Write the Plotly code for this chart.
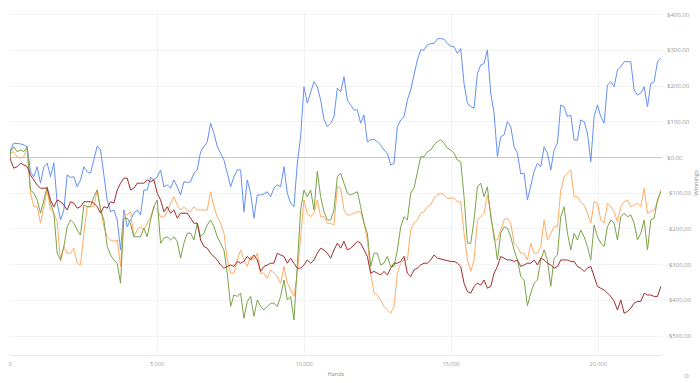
import plotly.graph_objects as go

# Winnings (dollars) sampled along the hand count
HAND_STEP = 113.4
HAND_OFFSET = 17

blue = [0,
    21,40,40,38,35,30,-40,-54,-26,-72,-26,-16,-54,-15,-128,-175,-147,-49,-56,-54,-82,-63,-26,-40,-44,-7,32,21,-44,-119,-152,-147,-175,-259,-147,-194,-175,-156,-147,-161,-91,-91,-56,-63,-54,-35,-82,-77,-86,-63,
    -82,-105,-68,-70,-68,-44,-35,16,30,44,96,68,30,12,-7,-44,-82,-54,-35,-35,-152,-63,-100,-170,-105,-105,-102,-96,-110,-86,-77,-82,-26,-100,-128,-138,-16,58,198,152,184,212,198,161,107,86,96,114,
    194,184,226,161,147,133,133,96,119,44,49,51,44,35,21,12,-21,-16,86,105,114,161,189,231,273,301,301,315,319,319,332,333,331,319,312,310,291,305,207,152,142,138,235,259,263,301,180,124,
    2,58,63,100,86,30,12,-46,-44,-119,-82,-40,-16,-26,30,12,-35,21,40,147,142,114,119,49,49,105,100,68,-12,114,147,114,96,203,212,198,245,254,268,268,268,189,175,180,198,142,207,212,268,277]

orange = [0,
    12,16,2,-2,2,26,-100,-138,-138,-184,-133,-91,-147,-156,-180,-291,-249,-268,-268,-254,-296,-301,-212,-138,-138,-138,-91,-138,-194,-222,-231,-235,-231,-305,-156,-161,-152,-222,-203,-194,-203,-184,-166,-138,-147,-166,-167,-152,-128,-110,
    -133,-147,-138,-147,-152,-138,-147,-147,-147,-147,-96,-138,-166,-184,-212,-287,-324,-324,-287,-259,-287,-305,-277,-287,-268,-324,-324,-338,-315,-324,-333,-352,-305,-352,-371,-389,-324,-222,-119,-156,-166,-156,-119,-166,-166,-184,-184,-189,
    -82,-86,-147,-161,-161,-156,-152,-152,-184,-231,-324,-380,-385,-399,-417,-427,-436,-417,-324,-296,-287,-287,-203,-184,-175,-156,-152,-138,-133,-114,-105,-100,-105,-114,-114,-114,-124,-124,-212,-287,-319,-287,-175,-166,-156,-105,-156,-231,
    -231,-203,-175,-170,-184,-240,-249,-268,-268,-287,-240,-268,-268,-249,-175,-231,-212,-194,-194,-91,-54,-44,-35,-110,-110,-124,-133,-156,-184,-124,-128,-175,-184,-128,-138,-152,-180,-138,-124,-119,-138,-133,-128,-138,-86,-156,-152,-147,-124,-91]

green = [0,
    16,30,16,21,16,30,-91,-100,-119,-156,-119,-82,-128,-156,-268,-287,-249,-194,-175,-184,-203,-217,-133,-138,-138,-110,-91,-147,-175,-249,-273,-287,-296,-352,-170,-170,-186,-222,-222,-222,-198,-222,-175,-138,-119,-240,-226,-222,-231,-222,
    -235,-282,-240,-212,-212,-231,-184,-222,-212,-189,-175,-194,-222,-240,-259,-324,-417,-385,-389,-380,-450,-403,-389,-445,-399,-417,-427,-417,-408,-408,-417,-389,-343,-399,-389,-455,-315,-147,-91,-110,-91,-147,-39,-110,-152,-175,-175,-147,
    -54,-44,-72,-100,-105,-100,-96,-138,-184,-212,-305,-268,-268,-301,-296,-277,-305,-305,-259,-194,-166,-175,-100,-86,-44,2,2,16,21,35,44,49,40,26,21,12,-7,-12,-110,-240,-240,-175,-82,-72,-110,-82,-166,-217,
    -287,-212,-194,-198,-222,-259,-287,-333,-343,-415,-380,-352,-343,-287,-259,-287,-361,-282,-273,-166,-138,-212,-259,-212,-231,-203,-222,-249,-287,-189,-222,-240,-249,-194,-175,-184,-231,-166,-156,-166,-161,-184,-231,-212,-175,-259,-175,-170,-119,-96]

red = [0,
    -7,-30,-26,-16,-21,-26,-49,-63,-77,-86,-86,-86,-119,-138,-119,-124,-133,-147,-124,-128,-142,-138,-124,-124,-124,-128,-138,-156,-138,-142,-124,-128,-91,-72,-58,-58,-91,-86,-72,-72,-72,-63,-68,-63,-100,-119,-152,-138,-156,-147,
    -170,-156,-156,-156,-170,-184,-184,-231,-249,-254,-268,-277,-287,-301,-310,-305,-301,-305,-291,-296,-291,-277,-287,-273,-287,-319,-305,-301,-296,-296,-268,-273,-277,-296,-282,-296,-310,-310,-301,-287,-296,-287,-268,-254,-259,-268,-282,-259,
    -240,-254,-235,-259,-254,-245,-235,-240,-259,-277,-324,-319,-324,-329,-319,-329,-310,-296,-296,-291,-277,-324,-333,-315,-310,-301,-296,-296,-287,-273,-282,-285,-287,-289,-291,-291,-296,-305,-352,-375,-380,-361,-352,-357,-343,-366,-361,-324,
    -305,-277,-282,-287,-287,-291,-287,-305,-301,-296,-296,-287,-301,-282,-287,-296,-301,-310,-305,-287,-287,-287,-291,-291,-305,-310,-319,-310,-305,-333,-361,-366,-371,-380,-389,-403,-427,-399,-436,-431,-422,-408,-403,-403,-380,-385,-385,-389,-389,-361]

x_ticks = [0, 5000, 10000, 15000, 20000]
x_tick_labels = ["0", "5.000", "10.000", "15.000", "20.000"]
y_ticks = [400, 300, 200, 100, 0, -100, -200, -300, -400, -500]
y_tick_labels = ["$400,00", "$300,00", "$200,00", "$100,00", "$0,00",
                 "-$100,00", "-$200,00", "-$300,00", "-$400,00", "-$500,00"]

series = [("blue", blue, "#6490f5"), ("orange", orange, "#ffab63"),
          ("green", green, "#7ba349"), ("red", red, "#a02d2d")]


def hands_for(vals):
    return [0] + [HAND_OFFSET + HAND_STEP * i for i in range(len(vals) - 1)]


fig = go.Figure()
for name, vals, col in series:
    fig.add_trace(go.Scatter(x=hands_for(vals), y=vals, mode="lines", name=name,
                             line=dict(color=col, width=1), hoverinfo="skip"))

fig.update_layout(
    width=700, height=383,
    margin=dict(l=10, r=38, t=11, b=28, autoexpand=False),
    plot_bgcolor="white", paper_bgcolor="white",
    showlegend=False,
    font=dict(family="Open Sans, sans-serif", size=6, color="#9a9a9a"),
    xaxis=dict(range=[0, 22170], tickvals=x_ticks, ticktext=x_tick_labels,
               automargin=False,
               showgrid=True, gridcolor="#f2f2f2", gridwidth=1,
               showline=True, linecolor="#e8e8e8", linewidth=1,
               zeroline=False, ticks="", ticklabelstandoff=3,
               tickfont=dict(size=5.5, color="#9a9a9a"),
               title=dict(text="Hands", font=dict(size=5.5, color="#8a8a8a"), standoff=5)),
    yaxis=dict(range=[-553, 410], side="right", tickvals=y_ticks, ticktext=y_tick_labels,
               automargin=False,
               showgrid=True, gridcolor="#f2f2f2", gridwidth=1,
               zeroline=True, zerolinecolor="#c8c8c8", zerolinewidth=1.3,
               ticks="", ticklabelstandoff=4,
               tickfont=dict(size=6, color="#9a9a9a"),
               title=dict(text="Winnings", font=dict(size=6, color="#8a8a8a"), standoff=4)),
)
fig.add_annotation(x=(687 - 10) / 652, y=(355 - 376) / 344, xref="paper", yref="paper",
                   text="⊙", showarrow=False, xanchor="center", yanchor="middle",
                   font=dict(size=6, color="#9a9a9a"))

fig.write_html("out.html", config={"displayModeBar": False},
               post_script="document.body.style.margin='0';")
